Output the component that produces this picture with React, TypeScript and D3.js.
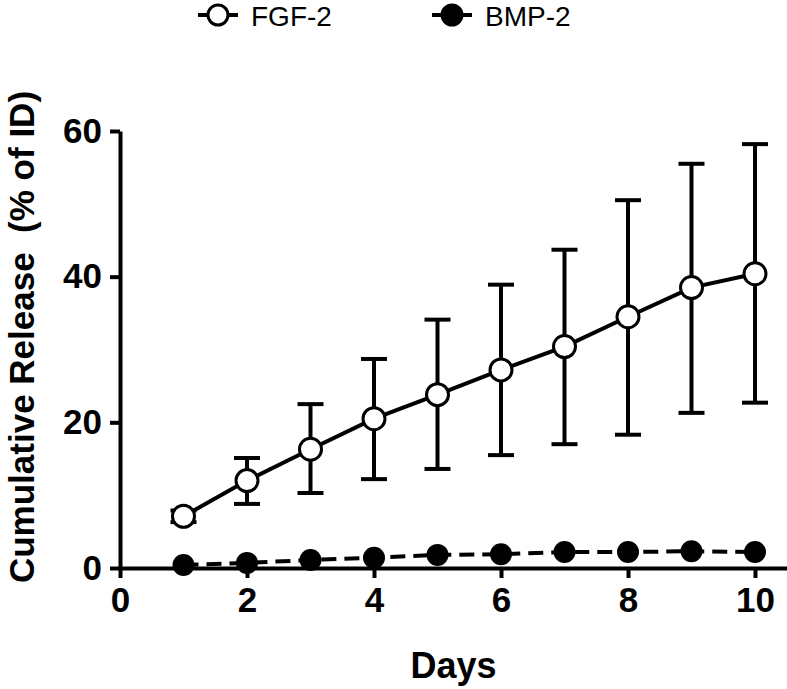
import React, { useEffect, useRef } from "react";
import * as d3 from "d3";

const days = [1, 2, 3, 4, 5, 6, 7, 8, 9, 10];
const fgfMean = [7.1, 12.0, 16.3, 20.5, 23.8, 27.2, 30.4, 34.5, 38.5, 40.4];
const fgfUpper = [7.9, 15.1, 22.5, 28.7, 34.1, 38.9, 43.7, 50.5, 55.5, 58.2];
const fgfLower = [6.3, 8.8, 10.3, 12.2, 13.6, 15.5, 17.0, 18.3, 21.3, 22.7];
const bmpMean = [0.4, 0.7, 1.1, 1.4, 1.8, 1.9, 2.2, 2.2, 2.3, 2.2];
const xTicks = [0, 2, 4, 6, 8, 10];
const yTicks = [0, 20, 40, 60];
const seriesNames = ["FGF-2", "BMP-2"];

const App = () => {
  const ref = useRef<SVGSVGElement>(null);

  useEffect(() => {
    document.body.style.margin = "0";
    const width = 787;
    const height = 689;
    const font = "'Liberation Sans', Arial, Helvetica, sans-serif";

    const svg = d3.select(ref.current);
    svg.selectAll("*").remove();
    svg.attr("width", width).attr("height", height);

    // scales
    const x = d3.scaleLinear().domain([0, 10.5]).range([120, 786.75]);
    const y = d3.scaleLinear().domain([0, 60]).range([568, 131]);

    // axes
    const xAxis = svg
      .append("g")
      .attr("transform", `translate(0, ${y(0)})`)
      .call(d3.axisBottom(x).tickValues(xTicks).tickSize(10).tickSizeOuter(0).tickPadding(9));
    const yAxis = svg
      .append("g")
      .attr("transform", `translate(${x(0)}, 0)`)
      .call(d3.axisLeft(y).tickValues(yTicks).tickSize(10).tickSizeOuter(0).tickPadding(8));

    [xAxis, yAxis].forEach((g) => {
      g.select(".domain").attr("stroke", "#000").attr("stroke-width", 4);
      g.selectAll(".tick line").attr("stroke", "#000").attr("stroke-width", 4);
      g.selectAll(".tick text")
        .attr("fill", "#000")
        .style("font-family", font)
        .style("font-size", "35px")
        .style("font-weight", "bold");
    });

    // axis titles
    svg
      .append("text")
      .attr("x", (x(0) + width) / 2)
      .attr("y", 678)
      .attr("text-anchor", "middle")
      .style("font-family", font)
      .style("font-size", "36px")
      .style("font-weight", "bold")
      .text("Days");

    svg
      .append("text")
      .attr("transform", `translate(34, 337) rotate(-90)`)
      .attr("text-anchor", "middle")
      .style("font-family", font)
      .style("font-size", "35px")
      .style("font-weight", "bold")
      .style("white-space", "pre")
      .text("Cumulative Release  (% of ID)");

    // BMP-2 dashed line
    const line = d3
      .line<number>()
      .x((d, i) => x(days[i]))
      .y((d) => y(d));

    svg
      .append("path")
      .datum(bmpMean)
      .attr("d", line)
      .attr("fill", "none")
      .attr("stroke", "#000")
      .attr("stroke-width", 4)
      .attr("stroke-dasharray", "15,8");

    svg
      .selectAll(".bmp-dot")
      .data(bmpMean)
      .enter()
      .append("circle")
      .attr("class", "bmp-dot")
      .attr("cx", (d, i) => x(days[i]))
      .attr("cy", (d) => y(d))
      .attr("r", 11)
      .attr("fill", "#000");

    // FGF-2 error bars
    const errs = svg.append("g");
    days.forEach((day, i) => {
      const cx = x(day);
      errs
        .append("line")
        .attr("x1", cx)
        .attr("x2", cx)
        .attr("y1", y(fgfUpper[i]))
        .attr("y2", y(fgfLower[i]))
        .attr("stroke", "#000")
        .attr("stroke-width", 4);
      [fgfUpper[i], fgfLower[i]].forEach((v) => {
        errs
          .append("line")
          .attr("x1", cx - 13)
          .attr("x2", cx + 13)
          .attr("y1", y(v))
          .attr("y2", y(v))
          .attr("stroke", "#000")
          .attr("stroke-width", 4);
      });
    });

    // FGF-2 solid line
    svg
      .append("path")
      .datum(fgfMean)
      .attr("d", line)
      .attr("fill", "none")
      .attr("stroke", "#000")
      .attr("stroke-width", 4);

    svg
      .selectAll(".fgf-dot")
      .data(fgfMean)
      .enter()
      .append("circle")
      .attr("class", "fgf-dot")
      .attr("cx", (d, i) => x(days[i]))
      .attr("cy", (d) => y(d))
      .attr("r", 11)
      .attr("fill", "#fff")
      .attr("stroke", "#000")
      .attr("stroke-width", 3);

    // legend
    const legendX = [218, 452];
    seriesNames.forEach((name, i) => {
      const g = svg.append("g").attr("transform", `translate(${legendX[i]}, 15)`);
      g.append("line")
        .attr("x1", -20)
        .attr("x2", 20)
        .attr("stroke", "#000")
        .attr("stroke-width", 4);
      g.append("circle")
        .attr("r", 10)
        .attr("fill", i === 0 ? "#fff" : "#000")
        .attr("stroke", "#000")
        .attr("stroke-width", 3);
      g.append("text")
        .attr("x", 33)
        .attr("y", 11)
        .style("font-family", font)
        .style("font-size", "28px")
        .text(name);
    });
  }, []);

  return (
    <div>
      <svg ref={ref} />
    </div>
  );
};

export default App;
